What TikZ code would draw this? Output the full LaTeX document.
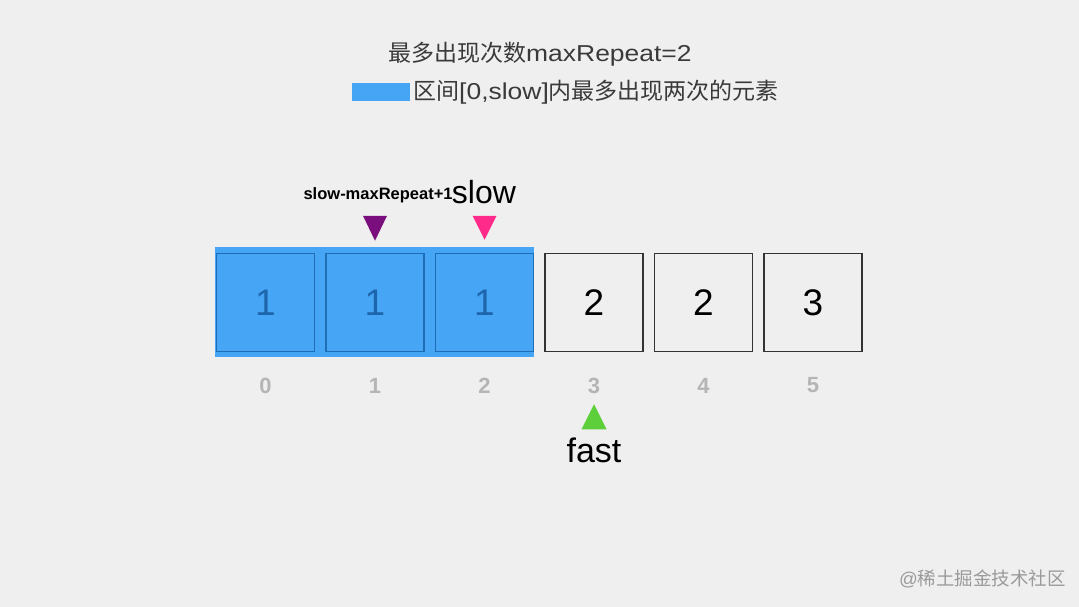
\documentclass[tikz,border=0pt]{standalone}
\usepackage{fontspec}
\setmainfont{Liberation Sans}
\newfontfamily\cjk{Noto Sans CJK SC}
\newfontfamily\widesans[FakeStretch=1.15]{Liberation Sans}
\usetikzlibrary{calc}
\definecolor{bg}{HTML}{EFEFEF}
\definecolor{hlblue}{HTML}{47A5F5}
\definecolor{boxblue}{HTML}{1F6DB5}
\definecolor{numblue}{HTML}{1E66AB}
\definecolor{idxgray}{HTML}{B5B5B5}
\definecolor{titlegray}{HTML}{3A3A3A}
\definecolor{mpurple}{HTML}{7A0E7C}
\definecolor{mpink}{HTML}{FF2A8A}
\definecolor{mgreen}{HTML}{5CCF3A}
\definecolor{wmgray}{HTML}{9A9A9A}
\tikzset{
  cell/.style={draw=black!80, line width=1.5pt, minimum width=98pt, minimum height=98pt, inner sep=0pt,
    font=\fontsize{37}{40}\selectfont, text=black},
  bluecell/.style={cell, draw=boxblue, fill=hlblue, text=numblue},
  idx/.style={font=\fontsize{22}{26}\selectfont\bfseries, text=idxgray},
  bigword/.style={font=\fontsize{34}{38}\selectfont, text=black, inner sep=0pt},
}
\begin{document}
\begin{tikzpicture}[x=1pt,y=-1pt]
\fill[bg] (0,0) rectangle (1079,607);
\useasboundingbox (0,0) rectangle (1079,607);

% title
\node[anchor=base west, inner sep=0pt, text=titlegray] (title) at (388,62)
  {\fontsize{23}{26}\selectfont\cjk 最多出现次数\widesans maxRepeat=2};
\fill[hlblue] (352,83) rectangle (410,101);
\node[anchor=base west, inner sep=0pt, text=titlegray] (legend) at (413,100)
  {\fontsize{23}{26}\selectfont\cjk 区间\widesans[0,slow]\cjk 内最多出现两次的元素};

% highlight band
\fill[hlblue] (215,247) rectangle (534,357);

% cells
\node[bluecell] (b0) at (265.5,302.5) {1};
\node[bluecell] (b1) at (375,302.5) {1};
\node[bluecell] (b2) at (484.5,302.5) {1};
\node[cell] (b3) at (594,302.5) {2};
\node[cell] (b4) at (703.5,302.5) {2};
\node[cell] (b5) at (813,302.5) {3};

% indices
\foreach \i in {0,...,5}{
  \node[idx] (i\i) at ($(b\i)+(0,83)$) {\i};
}

% pointers
\fill[mpurple] ($(b1.north)+(-12,-37)$) -- ($(b1.north)+(12,-37)$) -- ($(b1.north)+(0,-12)$) -- cycle;
\fill[mpink] ($(b2.north)+(-12,-37)$) -- ($(b2.north)+(12,-37)$) -- ($(b2.north)+(0,-13)$) -- cycle;
\fill[mgreen] ($(b3.south)+(-12.5,77)$) -- ($(b3.south)+(12.5,77)$) -- ($(b3.south)+(0,52)$) -- cycle;

\node[bigword, anchor=base] (slow) at (484,204) {\fontsize{32}{36}\selectfont slow};
\node[anchor=base east, inner sep=0pt, font=\fontsize{16.5}{18}\selectfont\bfseries] (smr) at ($(slow.base west)+(1,-4)$) {slow-maxRepeat+1};
\node[bigword, anchor=base] (fast) at (594,462) {fast};

% watermark
\node[anchor=base west, inner sep=0pt, text=wmgray] (wm) at (899,585)
  {\fontsize{18.5}{20}\selectfont @\cjk 稀土掘金技术社区};
\end{tikzpicture}
\end{document}
